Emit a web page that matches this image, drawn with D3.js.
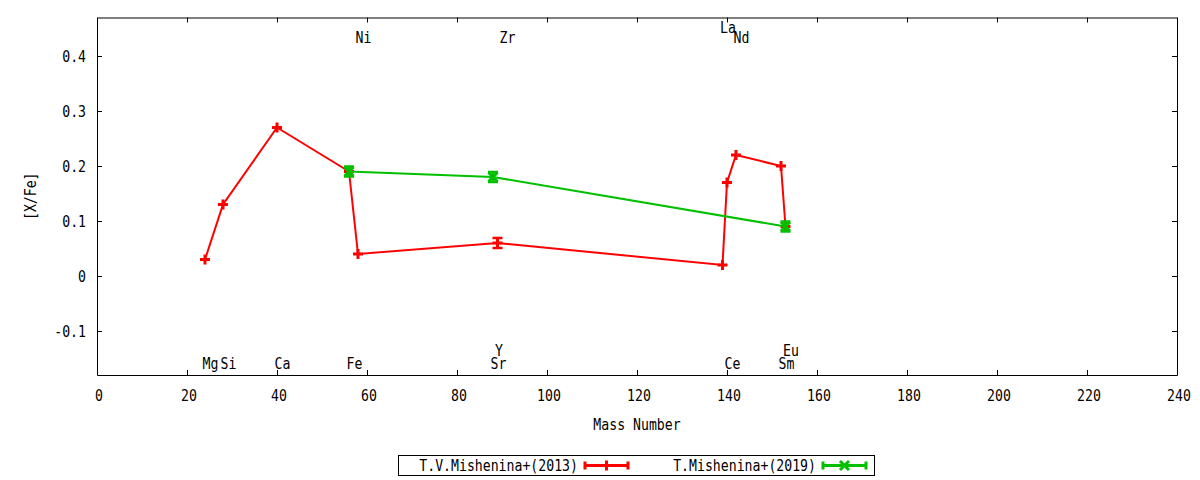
<!DOCTYPE html>
<html>
<head>
<meta charset="utf-8">
<script src="https://cdn.jsdelivr.net/npm/d3@7"></script>
<style>
  body { margin: 0; background: #fff; }
  text { font-family: "DejaVu Sans Mono", monospace; font-size: 15px; fill: #000; }
</style>
</head>
<body>
<script>
// T.V.Mishenina+(2013)
const redMass  = [24, 28, 40, 56, 58, 89, 139, 140, 142, 152, 153]
const redValue = [0.03, 0.13, 0.27, 0.19, 0.04, 0.06, 0.02, 0.17, 0.22, 0.20, 0.09]
const redErr   = [0, 0, 0, 0, 0, 0.009, 0, 0, 0, 0, 0]

// T.Mishenina+(2019)
const greenMass  = [56, 88, 153]
const greenValue = [0.19, 0.18, 0.09]
const greenErr   = [0.009, 0.009, 0.009]

// element labels: name, mass number, row (0/1 bottom, 2/3 top)
const elemName = ["Mg", "Si", "Ca", "Fe", "Sr", "Ce", "Sm", "Y", "Eu", "Ni", "Zr", "Nd", "La"]
const elemMass = [24, 28, 40, 56, 88, 140, 152, 89, 153, 58, 90, 142, 139]
const elemRow  = [0, 0, 0, 0, 0, 0, 0, 1, 1, 2, 2, 2, 3]

const xTicks = [0, 20, 40, 60, 80, 100, 120, 140, 160, 180, 200, 220, 240]
const yTicks = [-0.1, 0, 0.1, 0.2, 0.3, 0.4]
const yTickLabels = ["-0.1", "0", "0.1", "0.2", "0.3", "0.4"]

const seriesNames = ["T.V.Mishenina+(2013)", "T.Mishenina+(2019)"]
const seriesColors = ["#ff0000", "#00c000"]

const width = 1200, height = 480
const plot = {left: 97, right: 1177, top: 17.5, bottom: 375}
const SX = 0.88

const svg = d3.select("body").append("svg")
  .attr("width", width).attr("height", height)

const x = d3.scaleLinear([0, 240], [plot.left, plot.right])
const y = d3.scaleLinear([-0.18, 0.47], [plot.bottom, plot.top])

const txt = (g, px, py, s, anchor, rot) =>
  g.append("text")
   .attr("transform", `translate(${px},${py})` + (rot ? ` rotate(${rot})` : "") + ` scale(${SX},1)`)
   .attr("text-anchor", anchor)
   .text(s)

// axes (ticks inward on all four sides)
const tick = a => a.tickSizeInner(-5).tickSizeOuter(0).tickFormat("")
svg.append("g").attr("transform", `translate(0,${plot.bottom})`).call(tick(d3.axisBottom(x).tickValues(xTicks)))
svg.append("g").attr("transform", `translate(0,${plot.top})`).call(tick(d3.axisTop(x).tickValues(xTicks)))
svg.append("g").attr("transform", `translate(${plot.left},0)`).call(tick(d3.axisLeft(y).tickValues(yTicks)))
svg.append("g").attr("transform", `translate(${plot.right},0)`).call(tick(d3.axisRight(y).tickValues(yTicks)))
svg.selectAll(".domain, .tick line").attr("stroke", "#000").attr("stroke-width", 1)

xTicks.forEach(t => txt(svg, x(t) + 2, 401, String(t), "middle"))
yTicks.forEach((t, i) => txt(svg, 86, y(t) + 5.5, yTickLabels[i], "end"))

txt(svg, (plot.left + plot.right) / 2, 430, "Mass Number", "middle")
txt(svg, 36, (plot.top + plot.bottom) / 2, "[X/Fe]", "middle", -90)

// element labels
const rowY = [-0.159, -0.135, 0.434, 0.452]
elemName.forEach((n, i) => txt(svg, x(elemMass[i]) - 2.5, y(rowY[elemRow[i]]) + 5.5, n, "start"))

// markers
const plus = (g, cx, cy, c) => {
  g.append("path").attr("d", `M${cx - 5},${cy}L${cx + 5},${cy}M${cx},${cy - 5}L${cx},${cy + 5}`)
   .attr("stroke", c).attr("stroke-width", 3).attr("fill", "none")
}
const cross = (g, cx, cy, c) => {
  g.append("path").attr("d", `M${cx - 4.5},${cy - 4.5}L${cx + 4.5},${cy + 4.5}M${cx - 4.5},${cy + 4.5}L${cx + 4.5},${cy - 4.5}`)
   .attr("stroke", c).attr("stroke-width", 3).attr("fill", "none")
}
const errbar = (g, cx, y0, y1, c) => {
  g.append("path").attr("d", `M${cx},${y0}L${cx},${y1}M${cx - 5},${y0}L${cx + 5},${y0}M${cx - 5},${y1}L${cx + 5},${y1}`)
   .attr("stroke", c).attr("stroke-width", 2.5).attr("fill", "none")
}

const drawSeries = (mass, vals, errs, color, marker) => {
  const g = svg.append("g")
  const pts = mass.map((m, i) => [m, vals[i], errs[i]])
  g.append("path").datum(pts)
   .attr("d", d3.line().x(d => x(d[0])).y(d => y(d[1])))
   .attr("fill", "none").attr("stroke", color).attr("stroke-width", 2)
  pts.forEach(d => {
    if (d[2] > 0) errbar(g, x(d[0]), y(d[1] - d[2]), y(d[1] + d[2]), color)
    marker(g, x(d[0]), y(d[1]), color)
  })
}

drawSeries(redMass, redValue, redErr, seriesColors[0], plus)
drawSeries(greenMass, greenValue, greenErr, seriesColors[1], cross)

// legend
const leg = svg.append("g")
leg.append("rect").attr("x", 398.5).attr("y", 455.5).attr("width", 476).attr("height", 20)
   .attr("fill", "none").attr("stroke", "#000").attr("stroke-width", 1)
const legX = [585, 823]
const markers = [plus, cross]
seriesNames.forEach((n, i) => {
  const x0 = legX[i], x1 = x0 + 43, ly = 465.5
  txt(leg, x0 - 7, 470.5, n, "end")
  leg.append("path").attr("d", `M${x0},${ly}L${x1},${ly}M${x0},${ly - 4}L${x0},${ly + 4}M${x1},${ly - 4}L${x1},${ly + 4}`)
     .attr("stroke", seriesColors[i]).attr("stroke-width", 3).attr("fill", "none")
  markers[i](leg, (x0 + x1) / 2, ly, seriesColors[i])
})
</script>
</body>
</html>
